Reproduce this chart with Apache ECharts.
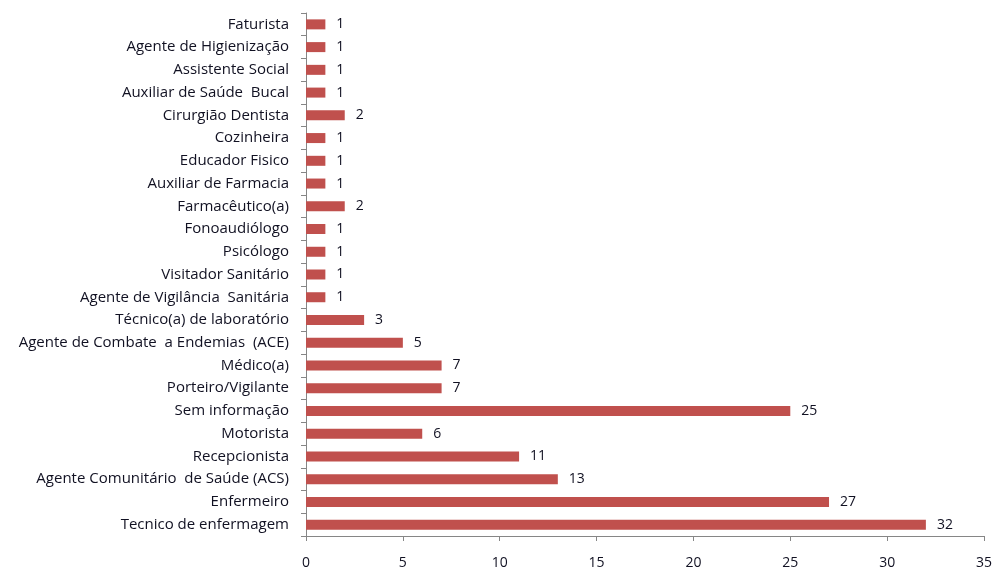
<!DOCTYPE html>
<html>
<head>
<meta charset="utf-8">
<script src="https://cdn.jsdelivr.net/npm/echarts@6/dist/echarts.min.js"></script>
<style>
  html, body { margin: 0; padding: 0; background: #fff; }
  #main { width: 995px; height: 572px; }
</style>
</head>
<body>
<div id="main"></div>
<script>
// categorias de baixo para cima
var categories = [
    'Tecnico de enfermagem',
    'Enfermeiro',
    'Agente Comunitário  de Saúde (ACS)',
    'Recepcionista',
    'Motorista',
    'Sem informação',
    'Porteiro/Vigilante',
    'Médico(a)',
    'Agente de Combate  a Endemias  (ACE)',
    'Técnico(a) de laboratório',
    'Agente de Vigilância  Sanitária',
    'Visitador Sanitário',
    'Psicólogo',
    'Fonoaudiólogo',
    'Farmacêutico(a)',
    'Auxiliar de Farmacia',
    'Educador Fisico',
    'Cozinheira',
    'Cirurgião Dentista',
    'Auxiliar de Saúde  Bucal',
    'Assistente Social',
    'Agente de Higienização',
    'Faturista'
];
var values = [32, 27, 13, 11, 6, 25, 7, 7, 5, 3, 1, 1, 1, 1, 2, 1, 1, 1, 2, 1, 1, 1, 1];

var textColor = '#111122';
var axisColor = '#868686';

var myChart = echarts.init(document.getElementById('main'));
myChart.setOption({
    animation: false,
    grid: {
        left: 306,
        right: 10,
        top: 13,
        bottom: 36,
        containLabel: false
    },
    xAxis: {
        type: 'value',
        min: 0,
        max: 35,
        interval: 5,
        splitLine: { show: false },
        axisLine: { show: true, lineStyle: { color: axisColor } },
        axisTick: { show: true, length: 5, lineStyle: { color: axisColor } },
        axisLabel: {
            color: textColor,
            fontFamily: 'Open Sans',
            fontSize: 14,
            margin: 20
        }
    },
    yAxis: {
        type: 'category',
        data: categories,
        axisLine: { show: true, lineStyle: { color: axisColor } },
        axisTick: { show: true, length: 5, lineStyle: { color: axisColor } },
        axisLabel: {
            color: textColor,
            fontFamily: 'Open Sans',
            fontSize: 15,
            margin: 17,
            interval: 0
        }
    },
    series: [
        {
            type: 'bar',
            data: values,
            barWidth: 10,
            itemStyle: { color: '#C0504D' },
            label: {
                show: true,
                position: 'right',
                distance: 11,
                color: textColor,
                fontFamily: 'Open Sans',
                fontSize: 14
            }
        }
    ]
});
</script>
</body>
</html>
